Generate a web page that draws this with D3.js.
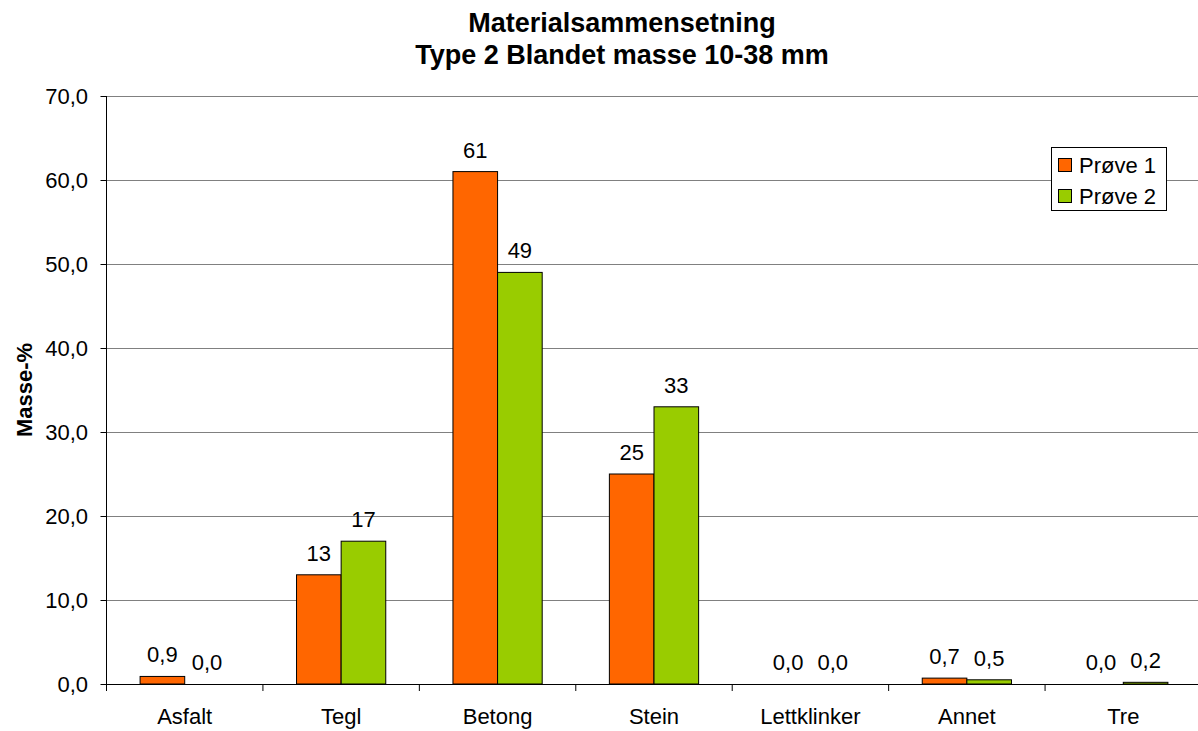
<!DOCTYPE html>
<html>
<head>
<meta charset="utf-8">
<script src="https://cdn.jsdelivr.net/npm/d3@7"></script>
<style>
  html, body { margin: 0; padding: 0; background: #fff; }
  svg { display: block; font-family: Arial, "Liberation Sans", sans-serif; }
</style>
</head>
<body>
<svg id="chart" width="1198" height="731"></svg>
<script>
const categories = ["Asfalt", "Tegl", "Betong", "Stein", "Lettklinker", "Annet", "Tre"];
const seriesNames = ["Prøve 1", "Prøve 2"];
const prove1 = [0.9, 13, 61, 25, 0.0, 0.7, 0.0];
const prove2 = [0.0, 17, 49, 33, 0.0, 0.5, 0.2];
const prove1Labels = ["0,9", "13", "61", "25", "0,0", "0,7", "0,0"];
const prove2Labels = ["0,0", "17", "49", "33", "0,0", "0,5", "0,2"];
const yTicks = [0, 10, 20, 30, 40, 50, 60, 70];
const titleLines = ["Materialsammensetning", "Type 2 Blandet masse 10-38 mm"];
const yAxisTitle = "Masse-%";
const colors = ["#FF6600", "#99CC00"];

(function () {
const svg = d3.select("#chart");
const pLeft = 106.5, pRight = 1201.5, pTop = 96, pBottom = 684;
const FS = 22;

const x = d3.scaleBand().domain(categories).range([pLeft, pRight]).paddingInner(0).paddingOuter(0);
const inner = d3.scaleBand().domain(seriesNames).range([0, x.bandwidth()]).paddingInner(0).paddingOuter(0.753);
const y = d3.scaleLinear().domain([0, 70]).range([pBottom, pTop]);

const loc = d3.formatLocale({decimal: ",", thousands: " ", grouping: [3], currency: ["", ""]});
const fmt = loc.format(".1f");

// gridlines
svg.append("g").selectAll("line").data(yTicks.filter(d => d > 0)).join("line")
  .attr("x1", pLeft).attr("x2", pRight)
  .attr("y1", d => Math.round(y(d)) + 0.5).attr("y2", d => Math.round(y(d)) + 0.5)
  .attr("stroke", "#808080").attr("stroke-width", 1);

// y axis
const yAxis = d3.axisLeft(y).tickValues(yTicks).tickFormat(fmt).tickSize(6).tickPadding(12.5);
const yg = svg.append("g").attr("transform", `translate(${pLeft},0)`).call(yAxis);
yg.select(".domain").attr("stroke", "#000").attr("d", `M0,${pTop}V${pBottom}`);
yg.selectAll(".tick line").attr("stroke", "#000");
yg.selectAll(".tick text").attr("font-size", FS).attr("fill", "#000").attr("font-family", "Arial, 'Liberation Sans', sans-serif");

// bars
const series = [prove1, prove2];
const labels = [prove1Labels, prove2Labels];
series.forEach((vals, si) => {
  const g = svg.append("g");
  g.selectAll("rect").data(vals).join("rect")
    .attr("x", (d, i) => x(categories[i]) + inner(seriesNames[si]))
    .attr("y", d => y(d))
    .attr("width", inner.bandwidth())
    .attr("height", d => pBottom - y(d))
    .attr("fill", colors[si])
    .attr("stroke", "#000").attr("stroke-width", 1);
  g.selectAll("text").data(vals).join("text")
    .attr("x", (d, i) => x(categories[i]) + inner(seriesNames[si]) + inner.bandwidth() / 2)
    .attr("y", d => y(d) - 14)
    .attr("text-anchor", "middle")
    .attr("font-size", FS)
    .attr("fill", "#000")
    .text((d, i) => labels[si][i]);
});

// x axis
const xAxis = d3.axisBottom(x).tickSize(0).tickPadding(0);
const xg = svg.append("g").attr("transform", `translate(0,${pBottom})`).call(xAxis);
xg.select(".domain").attr("stroke", "#000").attr("d", `M${pLeft},0.5H${pRight}`);
xg.selectAll(".tick text").attr("font-size", FS).attr("fill", "#000")
  .attr("font-family", "Arial, 'Liberation Sans', sans-serif")
  .attr("dy", null).attr("y", 40);
// category separator ticks
svg.append("g").selectAll("line").data(categories).join("line")
  .attr("x1", d => x(d)).attr("x2", d => x(d))
  .attr("y1", pBottom).attr("y2", pBottom + 7)
  .attr("stroke", "#000");

// title
svg.append("g").selectAll("text").data(titleLines).join("text")
  .attr("x", 622).attr("y", (d, i) => 32 + i * 31.5)
  .attr("text-anchor", "middle").attr("font-weight", "bold").attr("font-size", 27)
  .attr("fill", "#000").text(d => d);

// y axis title
svg.append("text")
  .attr("transform", `translate(32,${(pTop + pBottom) / 2}) rotate(-90)`)
  .attr("text-anchor", "middle").attr("font-weight", "bold").attr("font-size", FS)
  .attr("fill", "#000").text(yAxisTitle);

// legend
const lg = svg.append("g");
lg.append("rect").attr("x", 1051.5).attr("y", 147.5).attr("width", 115).attr("height", 63)
  .attr("fill", "#fff").attr("stroke", "#000");
seriesNames.forEach((n, i) => {
  lg.append("rect").attr("x", 1058.5).attr("y", 158.5 + i * 31).attr("width", 13).attr("height", 13)
    .attr("fill", colors[i]).attr("stroke", "#000");
  lg.append("text").attr("x", 1079).attr("y", 173 + i * 31).attr("font-size", FS)
    .attr("fill", "#000").text(n);
});
})();
</script>
</body>
</html>
